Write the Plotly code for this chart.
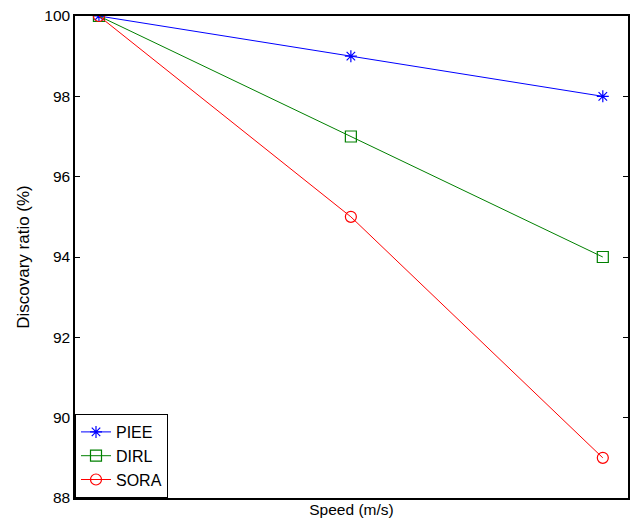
import plotly.graph_objects as go

speeds = [1, 2, 3]
piee = [100, 99, 98]
dirl = [100, 97, 94]
sora = [100, 95, 89]

fig = go.Figure()
fig.add_trace(go.Scatter(x=speeds, y=piee, name="PIEE", mode="lines+markers",
                         line=dict(color="#0000ff", width=1),
                         marker=dict(symbol="asterisk-open", size=10, color="#0000ff", line=dict(width=1.2, color="#0000ff"))))
fig.add_trace(go.Scatter(x=speeds, y=dirl, name="DIRL", mode="lines+markers",
                         line=dict(color="#008000", width=1),
                         marker=dict(symbol="square-open", size=11, color="#008000", line=dict(width=1.2, color="#008000"))))
fig.add_trace(go.Scatter(x=speeds, y=sora, name="SORA", mode="lines+markers",
                         line=dict(color="#ff0000", width=1),
                         marker=dict(symbol="circle-open", size=11, color="#ff0000", line=dict(width=1.2, color="#ff0000"))))

fig.update_layout(
    width=633, height=528,
    margin=dict(l=75, r=3, t=16, b=30),
    paper_bgcolor="white", plot_bgcolor="white",
    font=dict(family="Liberation Sans, Arial, sans-serif", size=15, color="black"),
    showlegend=True,
    legend=dict(x=0, y=0, xanchor="left", yanchor="bottom",
                bgcolor="white", bordercolor="black", borderwidth=1,
                font=dict(size=16), tracegroupgap=0, itemwidth=30,
                entrywidth=80, entrywidthmode="pixels"),
)
fig.update_xaxes(range=[0.905, 3.1], showticklabels=False, ticks="",
                 showgrid=False, zeroline=False,
                 showline=True, linecolor="black", linewidth=1.5, mirror=True,
                 title=dict(text="Speed (m/s)", standoff=5, font=dict(size=15.5)))
fig.update_yaxes(range=[88, 100], tickvals=[88, 90, 92, 94, 96, 98, 100],
                 ticks="inside", ticklen=5, tickwidth=1, tickcolor="black",
                 tickfont=dict(size=15.5),
                 showgrid=False, zeroline=False,
                 showline=True, linecolor="black", linewidth=1.5, mirror="ticks",
                 title=dict(text="Discovary ratio (%)", standoff=10, font=dict(size=17)))

fig.write_html("out.html")
